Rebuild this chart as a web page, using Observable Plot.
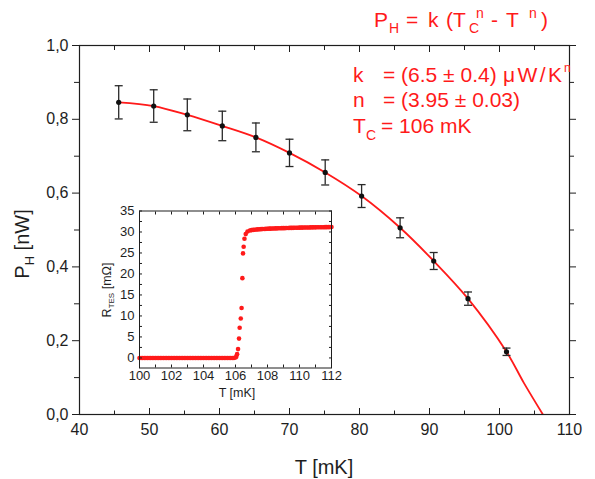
<!DOCTYPE html>
<html><head><meta charset="utf-8">
<script src="https://cdn.jsdelivr.net/npm/d3@7"></script>
<script src="https://cdn.jsdelivr.net/npm/@observablehq/plot@0.6"></script>
<style>
html,body{margin:0;padding:0;background:#fff;}
#wrap{position:relative;width:595px;height:479px;overflow:hidden;}
#wrap svg{position:absolute;overflow:visible;}
</style></head><body><div id="wrap"></div>
<script>
// ---- main chart data: heating power vs temperature ----
const temperatures = [45.6, 50.6, 55.4, 60.4, 65.2, 70.0, 75.1, 80.3, 85.8, 90.6, 95.5, 101.0];
const powers       = [0.846, 0.836, 0.812, 0.782, 0.751, 0.709, 0.656, 0.592, 0.506, 0.416, 0.314, 0.170];
const powerErrors  = [0.045, 0.044, 0.043, 0.040, 0.039, 0.037, 0.034, 0.031, 0.027, 0.023, 0.018, 0.010];
// fitted curve
const fitT = [45.6, 50.6, 55.4, 60.4, 65.2, 70.0, 75.1, 80.3, 85.8, 90.6, 95.5, 101.0, 103.5, 106.2];
const fitP = [0.846, 0.836, 0.812, 0.782, 0.751, 0.709, 0.656, 0.592, 0.506, 0.416, 0.314, 0.170, 0.085, 0.0];
// tick values
const xMajor = [40, 50, 60, 70, 80, 90, 100, 110];
const xMinor = [45, 55, 65, 75, 85, 95, 105];
const yMajor = [0, 0.2, 0.4, 0.6, 0.8, 1.0];
const yMinor = [0.1, 0.3, 0.5, 0.7, 0.9];

// ---- inset data: R_TES vs T ----
const offT = [100.0,100.1,100.2,100.3,100.4,100.5,100.6,100.7,100.8,100.9,
              101.0,101.1,101.2,101.3,101.4,101.5,101.6,101.7,101.8,101.9,
              102.0,102.1,102.2,102.3,102.4,102.5,102.6,102.7,102.8,102.9,
              103.0,103.1,103.2,103.3,103.4,103.5,103.6,103.7,103.8,103.9,
              104.0,104.1,104.2,104.3,104.4,104.5,104.6,104.7,104.8,104.9,
              105.0,105.1,105.2,105.3,105.4,105.5,105.6,105.7,105.8,105.9,
              106.0];
const offR = [0,0,0,0,0,0,0,0,0,0,
              0,0,0,0,0,0,0,0,0,0,
              0,0,0,0,0,0,0,0,0,0,
              0,0,0,0,0,0,0,0,0,0,
              0,0,0,0,0,0,0,0,0,0,
              0,0,0,0,0,0,0,0,0,0,
              0.1];
const transT = [106.05, 106.1, 106.16, 106.22, 106.26, 106.33, 106.38, 106.43, 106.47, 106.51, 106.56, 106.64, 106.75];
const transR = [0.3, 0.9, 2.1, 4.6, 7.2, 9.4, 11.9, 19.0, 24.9, 26.5, 28.4, 29.5, 30.1];
const onT = [106.9,
             107.0,107.1,107.2,107.3,107.4,107.5,107.6,107.7,107.8,107.9,
             108.0,108.1,108.2,108.3,108.4,108.5,108.6,108.7,108.8,108.9,
             109.0,109.1,109.2,109.3,109.4,109.5,109.6,109.7,109.8,109.9,
             110.0,110.1,110.2,110.3,110.4,110.5,110.6,110.7,110.8,110.9,
             111.0,111.1,111.2,111.3,111.4,111.5,111.6,111.7,111.8,111.9,
             112.0];
const onR = [30.35,
             30.45,30.5,30.55,30.58,30.62,30.65,30.68,30.7,30.72,30.75,
             30.77,30.79,30.8,30.82,30.84,30.85,30.87,30.88,30.9,30.91,
             30.92,30.93,30.95,30.96,30.97,30.98,30.99,31.0,31.01,31.02,
             31.03,31.04,31.05,31.06,31.07,31.07,31.08,31.09,31.1,31.1,
             31.11,31.12,31.12,31.13,31.14,31.14,31.15,31.15,31.16,31.17,
             31.18];
const insetXTicks = [100,101,102,103,104,105,106,107,108,109,110,111,112];
const insetXLabels = [100,102,104,106,108,110,112];
const insetYTicks = [0,2.5,5,7.5,10,12.5,15,17.5,20,22.5,25,27.5,30,32.5,35];
const insetYLabels = [0,5,10,15,20,25,30,35];

// ---- build tables ----
const points = temperatures.map((t, i) => ({t, p: powers[i], e: powerErrors[i]}));
const fit = fitT.map((t, i) => ({t, p: fitP[i]}));
const rtes = [...offT.map((t,i)=>({t, r: offR[i]})),
              ...transT.map((t,i)=>({t, r: transR[i]})),
              ...onT.map((t,i)=>({t, r: onR[i]}))];

const FONT = '"Liberation Sans", Arial, Helvetica, sans-serif';
const RED = "#ff1a1a";
const INK = "#1e1e1e";
const capSymbol = {draw(ctx, size){ const w = Math.sqrt(size/Math.PI); ctx.moveTo(-w,0); ctx.lineTo(w,0); }};
const comma = d => d.toFixed(1).replace(".", ",");

const main = Plot.plot({
  width: 595, height: 479,
  marginLeft: 79, marginRight: 26, marginTop: 45, marginBottom: 65,
  style: {fontFamily: FONT, color: INK, background: "transparent"},
  x: {domain: [40, 110]},
  y: {domain: [0, 1]},
  marks: [
    Plot.line(fit, {x: "t", y: "p", stroke: RED, strokeWidth: 1.8, curve: "catmull-rom", clip: true}),
    Plot.ruleX(points, {x: "t", y1: d => d.p - d.e, y2: d => d.p + d.e, stroke: "#2a2a2a", strokeWidth: 1.3}),
    Plot.dot(points, {x: "t", y: d => d.p - d.e, symbol: capSymbol, r: 4, stroke: "#2a2a2a", strokeWidth: 1.3, fill: "none"}),
    Plot.dot(points, {x: "t", y: d => d.p + d.e, symbol: capSymbol, r: 4, stroke: "#2a2a2a", strokeWidth: 1.3, fill: "none"}),
    Plot.dot(points, {x: "t", y: "p", r: 2.6, fill: "#111", stroke: null}),
    Plot.frame({stroke: INK, strokeWidth: 1.2}),
    Plot.axisX(xMajor, {anchor: "bottom", tickSize: 6, dy: -6, fill: "none", label: null}),
    Plot.axisX(xMinor, {anchor: "bottom", tickSize: 3.5, dy: -3.5, fill: "none", label: null}),
    Plot.axisX(xMajor, {anchor: "top", tickSize: 6, dy: 6, fill: "none", label: null}),
    Plot.axisX(xMinor, {anchor: "top", tickSize: 4, dy: 4, fill: "none", label: null}),
    Plot.axisY(yMajor, {anchor: "left", tickSize: 7, fill: "none", label: null}),
    Plot.axisY(yMinor, {anchor: "left", tickSize: 5, fill: "none", label: null}),
    Plot.axisY(yMajor, {anchor: "right", tickSize: 6, fill: "none", label: null}),
    Plot.axisY(yMinor, {anchor: "right", tickSize: 4, fill: "none", label: null}),
    Plot.axisX(xMajor, {anchor: "bottom", tickSize: 0, tickPadding: 9, fontSize: 16, label: null}),
    Plot.axisY(yMajor, {anchor: "left", tickSize: 0, tickPadding: 11, fontSize: 16, tickFormat: comma, label: null})
  ]
});

const inset = Plot.plot({
  width: 245, height: 205,
  marginLeft: 44, marginRight: 9, marginTop: 10.5, marginBottom: 37.5,
  style: {fontFamily: FONT, color: INK, background: "white"},
  x: {domain: [100, 112]},
  y: {domain: [-2.4, 35]},
  marks: [
    Plot.dot(rtes, {x: "t", y: "r", r: 2.3, fill: RED, stroke: null}),
    Plot.frame({stroke: INK, strokeWidth: 1}),
    Plot.axisX(insetXTicks, {anchor: "bottom", tickSize: 3, dy: -3, fill: "none", label: null}),
    Plot.axisX(insetXTicks, {anchor: "top", tickSize: 3, dy: 3, fill: "none", label: null}),
    Plot.axisY(insetYTicks, {anchor: "left", tickSize: 3, dx: 3, fill: "none", label: null}),
    Plot.axisY(insetYTicks, {anchor: "right", tickSize: 3, dx: -3, fill: "none", label: null}),
    Plot.axisX(insetXLabels, {anchor: "bottom", tickSize: 0, tickPadding: 3, fontSize: 13, label: null}),
    Plot.axisY(insetYLabels, {anchor: "left", tickSize: 0, tickPadding: 5, fontSize: 13, label: null})
  ]
});

const wrap = document.getElementById("wrap");
main.style.left = "0px"; main.style.top = "0px";
inset.style.left = "95px"; inset.style.top = "200px";
wrap.appendChild(main);
wrap.appendChild(inset);

// ---- text with sub/superscripts ----
function piece(g, x, y, txt, size, fill) {
  return g.append("text").attr("x", x).attr("y", y).attr("font-size", size)
    .attr("text-anchor", "start")
    .attr("font-family", FONT).attr("fill", fill).text(txt);
}
const ms = d3.select(main);
const tg = ms.append("g").attr("text-anchor", "start");
// title formula
piece(tg, 374, 27, "P", 21, RED);
piece(tg, 389, 33, "H", 14, RED);
piece(tg, 406, 27, "=", 21, RED);
piece(tg, 428, 27, "k", 21, RED);
piece(tg, 446, 27, "(", 21, RED);
piece(tg, 453, 27, "T", 21, RED);
piece(tg, 469, 33, "C", 14, RED);
piece(tg, 476, 18, "n", 14, RED);
piece(tg, 491, 27, "-", 21, RED);
piece(tg, 506, 27, "T", 21, RED);
piece(tg, 529, 18, "n", 14, RED);
piece(tg, 541, 27, ")", 21, RED);
// fit parameters
piece(tg, 353, 82, "k", 21, RED);
piece(tg, 383, 82, "= (6.5 \u00b1 0.4)", 21, RED);
piece(tg, 503, 82, "\u03bcW/K", 21, RED).attr("textLength", 59).attr("lengthAdjust", "spacing");
piece(tg, 564, 72, "n", 12, RED);
piece(tg, 353, 107, "n", 21, RED);
piece(tg, 383, 107, "= (3.95 \u00b1 0.03)", 21, RED);
piece(tg, 353, 133, "T", 21, RED);
piece(tg, 366, 140, "C", 14, RED);
piece(tg, 381, 133, "= 106 mK", 21, RED);

// axis titles
ms.append("text").attr("x", 324).attr("y", 474).attr("text-anchor", "middle")
  .attr("font-size", 20).attr("font-family", FONT).attr("fill", INK).text("T [mK]");
const yl = ms.append("text").attr("transform", "translate(29,244) rotate(-90)")
  .attr("text-anchor", "middle").attr("font-size", 20).attr("font-family", FONT).attr("fill", INK);
yl.append("tspan").text("P");
yl.append("tspan").attr("dy", 5).attr("font-size", 13).text("H");
yl.append("tspan").attr("dy", -5).text(" [nW]");

const is = d3.select(inset);
is.append("text").attr("x", 142).attr("y", 197).attr("text-anchor", "middle")
  .attr("font-size", 12.5).attr("font-family", FONT).attr("fill", INK).text("T [mK]");
const il = is.append("text").attr("transform", "translate(16,90) rotate(-90)")
  .attr("text-anchor", "middle").attr("font-size", 12.5).attr("font-family", FONT).attr("fill", INK);
il.append("tspan").text("R");
il.append("tspan").attr("dy", 3).attr("font-size", 8).text("TES");
il.append("tspan").attr("dy", -3).text(" [m\u03a9]");
</script>
</body></html>
